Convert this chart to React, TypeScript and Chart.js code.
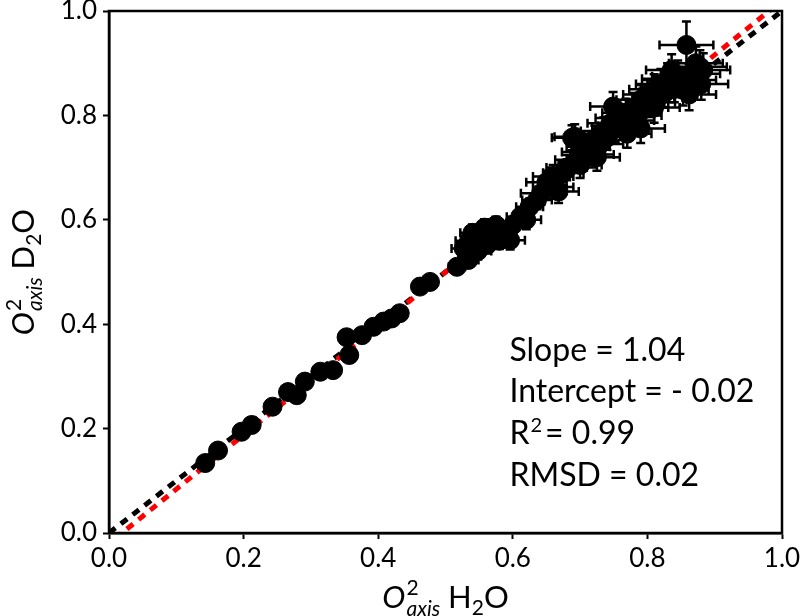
import React, { useEffect, useRef } from "react";
import { Chart, registerables } from "chart.js";

Chart.register(...registerables);

// ---- data ----
const xH2O = [
  0.143, 0.162, 0.197, 0.212, 0.243, 0.266, 0.279, 0.291, 0.314, 0.333, 0.353, 0.357, 0.376, 0.393, 0.408, 0.42, 0.432, 0.462, 0.477,
  0.517, 0.534, 0.527, 0.535, 0.54, 0.548, 0.552, 0.558, 0.545, 0.562, 0.57, 0.575, 0.58, 0.585, 0.596, 0.6, 0.611, 0.62, 0.636, 0.625,
  0.642, 0.65, 0.66, 0.668, 0.66, 0.675, 0.68, 0.688, 0.692, 0.695, 0.7, 0.705, 0.712, 0.718, 0.722, 0.73, 0.735, 0.74, 0.749, 0.745,
  0.752, 0.758, 0.762, 0.768, 0.775, 0.78, 0.785, 0.79, 0.795, 0.8, 0.805, 0.81, 0.815, 0.82, 0.825, 0.83, 0.836, 0.84, 0.845, 0.853,
  0.858, 0.862, 0.868, 0.878, 0.883, 0.872, 0.88, 0.862, 0.725, 0.77, 0.81, 0.79,
];
const yD2O = [
  0.134, 0.158, 0.194, 0.207, 0.242, 0.27, 0.264, 0.29, 0.309, 0.312, 0.375, 0.341, 0.379, 0.395, 0.405, 0.411, 0.421, 0.472, 0.481,
  0.51, 0.523, 0.545, 0.56, 0.575, 0.54, 0.565, 0.585, 0.553, 0.552, 0.572, 0.59, 0.56, 0.58, 0.561, 0.59, 0.606, 0.6, 0.638, 0.625,
  0.651, 0.672, 0.683, 0.654, 0.663, 0.69, 0.7, 0.757, 0.759, 0.715, 0.705, 0.73, 0.74, 0.725, 0.755, 0.745, 0.77, 0.76, 0.817, 0.785,
  0.775, 0.795, 0.78, 0.805, 0.79, 0.815, 0.8, 0.83, 0.815, 0.84, 0.825, 0.85, 0.835, 0.86, 0.845, 0.87, 0.887, 0.855, 0.875, 0.849,
  0.935, 0.868, 0.88, 0.893, 0.887, 0.9, 0.86, 0.84, 0.72, 0.765, 0.815, 0.775,
];
const xErr = [
  0.004, 0.004, 0.004, 0.004, 0.004, 0.004, 0.004, 0.004, 0.004, 0.004, 0.004, 0.004, 0.004, 0.004, 0.004, 0.004, 0.004, 0.006, 0.006,
  0.012, 0.015, 0.018, 0.02, 0.018, 0.02, 0.02, 0.018, 0.02, 0.02, 0.02, 0.02, 0.02, 0.02, 0.022, 0.02, 0.02, 0.022, 0.022, 0.02,
  0.03, 0.03, 0.03, 0.03, 0.03, 0.03, 0.03, 0.03, 0.03, 0.032, 0.032, 0.032, 0.032, 0.032, 0.032, 0.034, 0.034, 0.034, 0.034, 0.034,
  0.034, 0.035, 0.035, 0.035, 0.035, 0.035, 0.036, 0.036, 0.036, 0.036, 0.036, 0.037, 0.037, 0.037, 0.037, 0.038, 0.038, 0.038, 0.038, 0.038,
  0.04, 0.04, 0.04, 0.04, 0.04, 0.04, 0.04, 0.04, 0.034, 0.036, 0.038, 0.036,
];
const yErr = [
  0.004, 0.004, 0.004, 0.004, 0.004, 0.004, 0.004, 0.004, 0.004, 0.004, 0.004, 0.004, 0.004, 0.004, 0.004, 0.004, 0.004, 0.006, 0.006,
  0.01, 0.012, 0.015, 0.016, 0.016, 0.016, 0.016, 0.016, 0.016, 0.016, 0.016, 0.016, 0.016, 0.016, 0.018, 0.016, 0.016, 0.018, 0.018, 0.016,
  0.022, 0.022, 0.022, 0.022, 0.022, 0.024, 0.024, 0.024, 0.024, 0.025, 0.025, 0.025, 0.025, 0.025, 0.025, 0.026, 0.026, 0.026, 0.028, 0.026,
  0.026, 0.027, 0.027, 0.027, 0.027, 0.028, 0.028, 0.028, 0.028, 0.028, 0.028, 0.029, 0.029, 0.029, 0.029, 0.03, 0.03, 0.03, 0.03, 0.03,
  0.045, 0.03, 0.03, 0.032, 0.032, 0.032, 0.03, 0.03, 0.026, 0.027, 0.029, 0.028,
];
const identityX = [0, 1];
const fitSlope = 1.04;
const fitIntercept = -0.02;
const tickValues = [0, 0.2, 0.4, 0.6, 0.8, 1.0];
const statLines = ["Slope = 1.04", "Intercept = - 0.02", "R|2|= 0.99", "RMSD = 0.02"];

const FONT = "Lato, 'Open Sans', 'DejaVu Sans', sans-serif";

function drawAxisLabel(ctx: CanvasRenderingContext2D, cx: number, cy: number, letter: string) {
  const big = 31;
  const small = 21;
  ctx.save();
  const fBigIt = `italic ${big}px ${FONT}`;
  const fBig = `${big}px ${FONT}`;
  const fSmall = `${small}px ${FONT}`;
  const fSmallIt = `italic ${small}px ${FONT}`;
  const w = (t: string, f: string) => {
    ctx.font = f;
    return ctx.measureText(t).width;
  };
  const wO = w("O", fBigIt);
  const w2 = w("2", fSmall);
  const wAxis = w("axis", fSmallIt);
  const wStack = Math.max(w2, wAxis);
  const wSp = w(" ", fBig);
  const wL = w(letter, fBig);
  const wSub = w("2", fSmall);
  const wO2 = w("O", fBig);
  const total = wO + 1 + wStack + wSp + wL + wSub + wO2;
  let x = cx - total / 2;
  const base = cy + 10;
  ctx.fillStyle = "#000";
  ctx.textBaseline = "alphabetic";
  ctx.textAlign = "left";
  ctx.font = fBigIt;
  ctx.fillText("O", x, base);
  x += wO + 1;
  ctx.font = fSmall;
  ctx.fillText("2", x, base - 13);
  ctx.font = fSmallIt;
  ctx.fillText("axis", x, base + 8);
  x += wStack + wSp;
  ctx.font = fBig;
  ctx.fillText(letter, x, base);
  x += wL;
  ctx.font = fSmall;
  ctx.fillText("2", x, base + 7);
  x += wSub;
  ctx.font = fBig;
  ctx.fillText("O", x, base);
  ctx.restore();
}

const decorPlugin = {
  id: "decor",
  afterDatasetsDraw(chart: any) {
    const ctx = chart.ctx as CanvasRenderingContext2D;
    const xs = chart.scales.x;
    const ys = chart.scales.y;
    ctx.save();
    ctx.strokeStyle = "#000";
    ctx.lineWidth = 2.5;
    const cap = 4.5;
    for (let i = 0; i < xH2O.length; i++) {
      const px = xs.getPixelForValue(xH2O[i]);
      const py = ys.getPixelForValue(yD2O[i]);
      const x0 = xs.getPixelForValue(xH2O[i] - xErr[i]);
      const x1 = xs.getPixelForValue(xH2O[i] + xErr[i]);
      const y0 = ys.getPixelForValue(yD2O[i] - yErr[i]);
      const y1 = ys.getPixelForValue(yD2O[i] + yErr[i]);
      ctx.beginPath();
      ctx.moveTo(x0, py);
      ctx.lineTo(x1, py);
      ctx.moveTo(x0, py - cap);
      ctx.lineTo(x0, py + cap);
      ctx.moveTo(x1, py - cap);
      ctx.lineTo(x1, py + cap);
      ctx.moveTo(px, y0);
      ctx.lineTo(px, y1);
      ctx.moveTo(px - cap, y0);
      ctx.lineTo(px + cap, y0);
      ctx.moveTo(px - cap, y1);
      ctx.lineTo(px + cap, y1);
      ctx.stroke();
    }
    ctx.restore();
  },
  afterDraw(chart: any) {
    const ctx = chart.ctx as CanvasRenderingContext2D;
    const a = chart.chartArea;
    const xs = chart.scales.x;
    const ys = chart.scales.y;
    ctx.save();
    ctx.strokeStyle = "#000";
    ctx.lineWidth = 2.5;
    ctx.strokeRect(a.left, a.top, a.right - a.left, a.bottom - a.top);
    ctx.restore();

    // stats text
    ctx.save();
    ctx.fillStyle = "#000";
    ctx.textAlign = "left";
    ctx.textBaseline = "alphabetic";
    const tx = xs.getPixelForValue(0.595);
    const y0 = ys.getPixelForValue(0.33);
    const lh = 41.7;
    const fs = 32;
    statLines.forEach((line, i) => {
      const by = y0 + i * lh;
      if (line.includes("|")) {
        const [a1, sup, rest] = line.split("|");
        ctx.font = `${fs}px ${FONT}`;
        ctx.fillText(a1, tx, by);
        let x = tx + ctx.measureText(a1).width + 1;
        ctx.font = `20px ${FONT}`;
        ctx.fillText(sup, x, by - 12);
        x += ctx.measureText(sup).width + 3;
        ctx.font = `${fs}px ${FONT}`;
        ctx.fillText(rest, x, by);
      } else {
        ctx.font = `${fs}px ${FONT}`;
        ctx.fillText(line, tx, by);
      }
    });
    ctx.restore();

    // axis titles
    const cx = (a.left + a.right) / 2;
    drawAxisLabel(ctx, cx, 598, "H");
    ctx.save();
    ctx.translate(30, (a.top + a.bottom) / 2);
    ctx.rotate(-Math.PI / 2);
    drawAxisLabel(ctx, 0, -6, "D");
    ctx.restore();
  },
};

export default function App() {
  const ref = useRef<HTMLCanvasElement | null>(null);
  useEffect(() => {
    if (!ref.current) return;
    const points = xH2O.map((x, i) => ({ x, y: yD2O[i] }));
    const identity = identityX.map((x) => ({ x, y: x }));
    const fit = identityX.map((x) => ({ x, y: fitSlope * x + fitIntercept }));
    const chart = new Chart(ref.current, {
      type: "scatter",
      data: {
        datasets: [
          {
            data: points,
            backgroundColor: "#000",
            borderColor: "#000",
            pointRadius: 9.5,
            pointHoverRadius: 9.5,
            order: 0,
          },
          {
            type: "line",
            data: fit,
            borderColor: "#ff0000",
            borderWidth: 5,
            borderDash: [8, 7],
            borderDashOffset: 7,
            pointRadius: 0,
            fill: false,
            order: 1,
          } as any,
          {
            type: "line",
            data: identity,
            borderColor: "#000000",
            borderWidth: 5,
            borderDash: [8, 7],
            pointRadius: 0,
            fill: false,
            order: 2,
          } as any,
        ],
      },
      options: {
        animation: false,
        responsive: false,
        devicePixelRatio: 1,
        events: [],
        layout: { padding: { left: 0, top: 11, right: 18, bottom: 0 } },
        plugins: { legend: { display: false }, tooltip: { enabled: false }, title: { display: false } },
        scales: {
          x: {
            type: "linear",
            min: 0,
            max: 1,
            afterBuildTicks: (s: any) => {
              s.ticks = tickValues.map((v) => ({ value: v }));
            },
            afterFit: (s: any) => {
              s.height = 83;
              s.paddingLeft = 0;
              s.paddingRight = 0;
            },
            grid: { display: true, drawOnChartArea: false, drawTicks: true, tickLength: 6, tickWidth: 2, tickColor: "#000" },
            border: { display: true, color: "#000", width: 2.5 },
            ticks: {
              color: "#000",
              padding: 4,
              font: { family: FONT, size: 26 },
              maxRotation: 0,
              callback: (v: any) => Number(v).toFixed(1),
            },
          },
          y: {
            type: "linear",
            min: 0,
            max: 1,
            afterBuildTicks: (s: any) => {
              s.ticks = tickValues.map((v) => ({ value: v }));
            },
            afterFit: (s: any) => {
              s.width = 109;
              s.paddingTop = 0;
              s.paddingBottom = 0;
            },
            grid: { display: true, drawOnChartArea: false, drawTicks: true, tickLength: 6, tickWidth: 2, tickColor: "#000" },
            border: { display: true, color: "#000", width: 2.5 },
            ticks: {
              color: "#000",
              padding: 6,
              font: { family: FONT, size: 26 },
              callback: (v: any) => Number(v).toFixed(1),
            },
          },
        },
      },
      plugins: [decorPlugin],
    } as any);
    return () => chart.destroy();
  }, []);
  return (
    <div style={{ position: "fixed", left: 0, top: 0, width: 800, height: 616, background: "#fff" }}>
      <canvas ref={ref} width={800} height={616} style={{ display: "block" }} />
    </div>
  );
}
